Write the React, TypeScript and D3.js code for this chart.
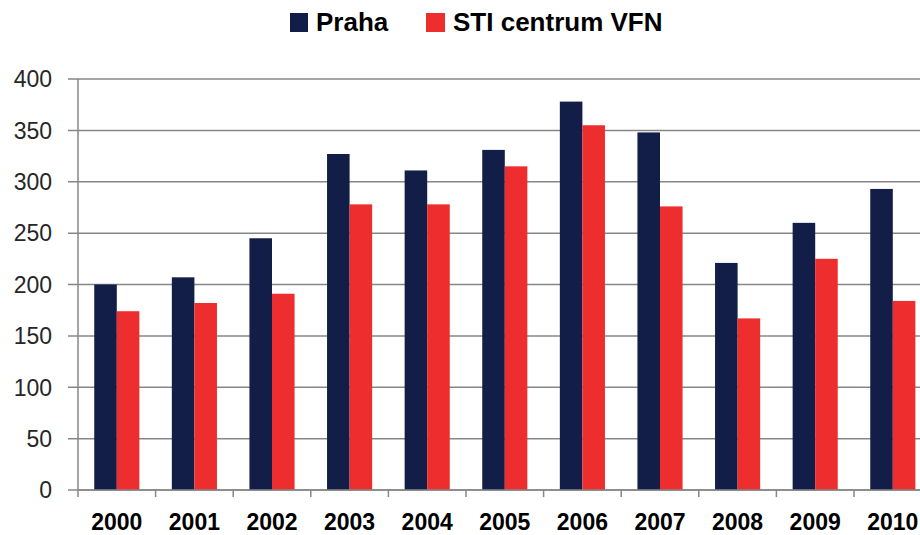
import React from 'react';
import * as d3 from 'd3';

const years = ['2000', '2001', '2002', '2003', '2004', '2005', '2006', '2007', '2008', '2009', '2010'];
const seriesNames = ['Praha', 'STI centrum VFN'];
const praha = [200, 207, 245, 327, 311, 331, 378, 348, 221, 260, 293];
const stiCentrum = [174, 182, 191, 278, 278, 315, 355, 276, 167, 225, 184];
const yTicks = [0, 50, 100, 150, 200, 250, 300, 350, 400];

const colors = ['#131E48', '#EE2E2E'];
const W = 920;
const H = 535;
const left = 78;
const bandW = 77.6;
const top = 79;
const bottom = 490;

export default function App() {
    const x0 = d3.scaleBand().domain(years).range([left, left + years.length * bandW]).padding(0);
    const x1 = d3.scaleBand().domain(seriesNames).range([0, x0.bandwidth()]).paddingInner(0).paddingOuter(0.72);
    const y = d3.scaleLinear().domain([0, 400]).range([bottom, top]);
    const series = [praha, stiCentrum];
    const font = '"Liberation Sans", Arial, sans-serif';

    return (
        <svg width={W} height={H} style={{ position: 'absolute', left: 0, top: 0, display: 'block', background: '#fff' }}>
            {/* gridlines + y ticks */}
            {yTicks.map(t => (
                <g key={t}>
                    <line x1={left - 10} x2={W} y1={y(t)} y2={y(t)} stroke="#878787" strokeWidth={1.5} />
                    <text x={52} y={y(t)} dy="0.36em" textAnchor="end" fontFamily={font} fontSize={23} fill="#262626">{t}</text>
                </g>
            ))}
            {/* bars */}
            {years.map((yr, i) => (
                <g key={yr} transform={`translate(${x0(yr)},0)`}>
                    {seriesNames.map((s, j) => (
                        <rect key={s} x={x1(s)} width={x1.bandwidth()} y={y(series[j][i])}
                            height={y(0) - y(series[j][i])} fill={colors[j]} />
                    ))}
                </g>
            ))}
            {/* axes */}
            <line x1={left} x2={left} y1={top} y2={bottom + 7} stroke="#878787" strokeWidth={1.5} />
            <line x1={left} x2={W} y1={bottom} y2={bottom} stroke="#878787" strokeWidth={1.5} />
            {years.map(yr => (
                <line key={yr} x1={x0(yr)! + bandW} x2={x0(yr)! + bandW} y1={bottom} y2={bottom + 7} stroke="#878787" strokeWidth={1.5} />
            ))}
            {years.map(yr => (
                <text key={yr} x={x0(yr)! + bandW / 2} y={530} textAnchor="middle" fontFamily={font}
                    fontWeight="bold" fontSize={23} fill="#000">{yr}</text>
            ))}
            {/* legend */}
            <rect x={290} y={13} width={18} height={19} fill={colors[0]} />
            <text x={316} y={31} fontFamily={font} fontWeight="bold" fontSize={26} fill="#000">{seriesNames[0]}</text>
            <rect x={426} y={13} width={19} height={19} fill={colors[1]} />
            <text x={453} y={31} fontFamily={font} fontWeight="bold" fontSize={26} fill="#000">{seriesNames[1]}</text>
        </svg>
    );
}
